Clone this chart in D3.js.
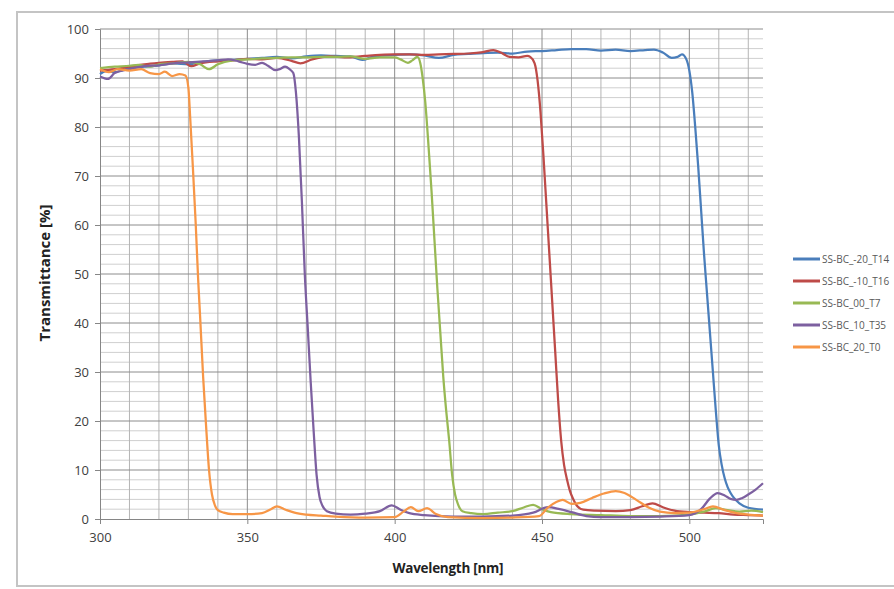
<!DOCTYPE html>
<html>
<head>
<meta charset="utf-8">
<script src="https://cdn.jsdelivr.net/npm/d3@7"></script>
<style>
  body { margin: 0; background: #fff; }
  svg { display: block; font-family: "Open Sans", "Noto Sans", sans-serif; }
</style>
</head>
<body>
<svg id="chart" width="894" height="589"></svg>
<script>
// series names (legend)
const seriesNames = ["SS-BC_-20_T14", "SS-BC_-10_T16", "SS-BC_00_T7", "SS-BC_10_T35", "SS-BC_20_T0"];
const seriesColors = ["#4a7ebb", "#be4b48", "#98b954", "#7d60a0", "#f79646"];

const xTicks = [300, 350, 400, 450, 500];
const yTicks = [0, 10, 20, 30, 40, 50, 60, 70, 80, 90, 100];

// [wavelength nm, transmittance %]
const bc_m20 = [[300,90.8],[302,91.4],[305,91.2],[310,92],[315,92.3],[320,92.6],[325,93],[330,92.8],[335,93.3],[340,93.6],[345,93.7],[350,93.9],[355,94.1],[360,94.3],[365,94.0],[370,94.4],[375,94.6],[380,94.5],[385,94.4],[389,93.7],[393,94.4],[400,94.7],[405,94.8],[410,94.6],[415,94.1],[420,94.7],[425,94.9],[430,95.1],[435,95.2],[440,95.0],[445,95.4],[450,95.5],[455,95.7],[460,95.9],[465,95.9],[470,95.6],[475,95.8],[480,95.5],[485,95.7],[488,95.8],[491,95.2],[494,94.1],[496,94.3],[497.5,94.8],[499,93.8],[500,91.5],[501,87],[502,80],[503,72],[504,63],[505,54],[506,46],[507,38],[508,30],[509,22],[510,15],[511,11],[512,8.3],[513,6.5],[514,5.3],[515,4.4],[517,3.2],[520,2.3],[525,1.9]];

const bc_m10 = [[300,91.5],[305,91.8],[310,92.3],[315,92.8],[320,93.1],[325,93.3],[328,93.4],[331,92.4],[334,93.0],[340,93.4],[345,93.6],[350,93.9],[355,93.8],[360,94.1],[365,93.5],[368,93.0],[372,93.8],[378,94.4],[383,94.2],[390,94.5],[395,94.7],[400,94.8],[405,94.8],[410,94.7],[415,94.8],[420,94.9],[425,95.0],[430,95.3],[433.5,95.7],[436,95.2],[439,94.3],[442,94.2],[445,94.5],[446,94.3],[447.5,93],[448.5,89.5],[449.5,83],[450.5,74],[451.5,64],[452.5,54],[453.5,44],[454.5,34],[455.5,24],[456.5,16],[457.5,11],[458.5,8],[459.5,5.7],[460.5,4.2],[462,2.6],[464,1.9],[468,1.7],[475,1.6],[480,1.8],[484,2.6],[487.5,3.2],[491,2.4],[495,1.7],[500,1.4],[505,1.3],[510,1.2],[515,0.9],[520,0.8],[525,0.7]];

const bc_00 = [[300,92],[305,92.3],[310,92.5],[313,92.7],[317,92.3],[320,92.8],[325,93],[330,93.3],[334,92.8],[337,91.8],[340,92.8],[345,93.6],[350,93.8],[355,94],[360,94.1],[365,94.2],[370,94.2],[375,94.3],[380,94.3],[385,94.4],[390,93.9],[395,94.2],[400,94.2],[402,93.8],[404.5,93.1],[406,93.6],[407.7,94.3],[408.7,93],[409.5,90],[410.4,85],[411.5,76],[412.5,67],[413.5,57],[414.5,47],[415.5,38],[416.5,29],[417.5,22],[418.5,16],[419.5,9],[420.5,5],[421.5,3],[423,1.6],[426,1.2],[430,1.0],[435,1.3],[440,1.6],[444,2.4],[447,2.9],[450,2.0],[453,1.4],[460,1.0],[470,0.8],[480,0.6],[490,0.6],[500,0.9],[505,1.5],[509,2.2],[513,1.8],[517,1.5],[521,1.7],[525,1.4]];

const bc_10 = [[300,90.3],[302.7,89.8],[305,91],[310,91.8],[315,92.4],[320,92.6],[325,93],[330,93.2],[335,93.4],[340,93.6],[343.5,93.8],[347,93.4],[350,92.9],[352.7,92.7],[355,93.1],[357,92.5],[359.5,91.6],[361,91.8],[362.8,92.3],[364.3,91.8],[365.6,91],[366.5,87],[367.5,78],[368.5,65],[369.5,50],[370.5,39],[371.5,28],[372.5,18],[373.5,9],[374.5,4.5],[375.5,2.7],[377,1.6],[380,1.1],[385,0.9],[390,1.1],[395,1.6],[399,2.8],[402,1.9],[405,1.2],[410,0.8],[420,0.5],[430,0.5],[440,0.7],[447,1.3],[452,2.4],[456,2.0],[460,1.4],[465,0.6],[470,0.4],[480,0.4],[490,0.5],[500,0.8],[504,2.0],[507,4.2],[509.6,5.3],[512,4.8],[514,4.1],[516,3.9],[518,4.3],[520,5.0],[522.5,6.0],[525,7.3]];

const bc_20 = [[300,91.8],[303,91.2],[306,91.8],[310,91.5],[314,91.8],[317,91],[320,90.8],[322,91.3],[324.5,90.4],[327,90.8],[329,90.5],[330,88],[330.6,82],[331.5,72],[332.5,60],[333.3,49],[334,41],[335,29],[336,19],[337,10],[338,5],[339,2.8],[340,1.8],[342,1.3],[345,1.0],[350,1.0],[355,1.2],[358,2.0],[360,2.6],[363,1.9],[366,1.3],[370,0.9],[375,0.7],[380,0.5],[390,0.3],[400,0.4],[403,1.5],[405.5,2.4],[408,1.6],[411,2.2],[414,1.0],[418,0.4],[430,0.2],[440,0.3],[449,0.6],[452,2.3],[455,3.5],[457,3.9],[460,3.1],[463,3.3],[467,4.3],[471,5.2],[475,5.7],[478,5.3],[482,3.9],[486,2.4],[490,1.5],[495,1.2],[500,1.3],[505,2.0],[508,2.6],[512,1.8],[516,1.2],[520,0.9],[525,0.7]];

const allSeries = [bc_m20, bc_m10, bc_00, bc_10, bc_20];

const svg = d3.select("#chart");
const plot = {left: 100, top: 29, right: 763, bottom: 519};

// outer chart border
svg.append("rect")
  .attr("x", 17).attr("y", 12)
  .attr("width", 900).attr("height", 574)
  .attr("fill", "none")
  .attr("stroke", "#c4c4c4")
  .attr("stroke-width", 2);

const x = d3.scaleLinear().domain([300, 525]).range([plot.left, plot.right]);
const y = d3.scaleLinear().domain([0, 100]).range([plot.bottom, plot.top]);

// gridlines
const grid = svg.append("g");
grid.selectAll(".hmin")
  .data(d3.range(0, 101, 2).filter(v => v % 10 !== 0))
  .enter().append("line")
  .attr("x1", plot.left).attr("x2", plot.right)
  .attr("y1", d => y(d)).attr("y2", d => y(d))
  .attr("stroke", "#cfcfcf").attr("stroke-width", 1);
grid.selectAll(".vmin")
  .data(d3.range(310, 526, 10).filter(v => v % 50 !== 0))
  .enter().append("line")
  .attr("x1", d => x(d)).attr("x2", d => x(d))
  .attr("y1", plot.top).attr("y2", plot.bottom)
  .attr("stroke", "#b4b4b4").attr("stroke-width", 1);
grid.selectAll(".hmaj")
  .data(yTicks.filter(v => v > 0))
  .enter().append("line")
  .attr("x1", plot.left).attr("x2", plot.right)
  .attr("y1", d => y(d)).attr("y2", d => y(d))
  .attr("stroke", "#8c8c8c").attr("stroke-width", 1);
grid.selectAll(".vmaj")
  .data(xTicks.filter(v => v > 300))
  .enter().append("line")
  .attr("x1", d => x(d)).attr("x2", d => x(d))
  .attr("y1", plot.top).attr("y2", plot.bottom)
  .attr("stroke", "#8c8c8c").attr("stroke-width", 1);

// axes
let yAxis = svg.append("g")
  .attr("transform", `translate(${plot.left},0)`)
  .call(d3.axisLeft(y).tickValues(yTicks).tickSize(5).tickPadding(6));
let xAxis = svg.append("g")
  .attr("transform", `translate(0,${plot.bottom})`)
  .call(d3.axisBottom(x).tickValues(xTicks).tickSize(5).tickPadding(9));
[yAxis, xAxis].forEach(a => {
  a.select(".domain").attr("stroke", "#868686");
  a.selectAll(".tick line").attr("stroke", "#868686");
  a.selectAll("text").attr("fill", "#404040").style("font-size", "13px")
    .style("font-family", "'Open Sans', sans-serif");
});

// series lines
const line = d3.line()
  .x(d => x(d[0]))
  .y(d => y(d[1]))
  .curve(d3.curveMonotoneX);

svg.append("g")
  .selectAll("path")
  .data(allSeries)
  .enter().append("path")
  .attr("d", line)
  .attr("fill", "none")
  .attr("stroke", (d, i) => seriesColors[i])
  .attr("stroke-width", 2.25)
  .attr("stroke-linejoin", "round");

// axis titles
svg.append("text")
  .attr("x", 448)
  .attr("y", 573)
  .attr("text-anchor", "middle")
  .attr("font-weight", "bold")
  .attr("font-size", "13.5px")
  .attr("fill", "#222")
  .attr("textLength", 111)
  .text("Wavelength [nm]");

svg.append("text")
  .attr("transform", "translate(50,273) rotate(-90)")
  .attr("text-anchor", "middle")
  .attr("font-weight", "bold")
  .attr("font-size", "15px")
  .attr("fill", "#222")
  .text("Transmittance [%]");

// legend
const legend = svg.append("g");
const leg = legend.selectAll("g")
  .data(seriesNames)
  .enter().append("g")
  .attr("transform", (d, i) => `translate(793,${259 + i * 22})`);
leg.append("line")
  .attr("x1", 0).attr("x2", 27)
  .attr("stroke", (d, i) => seriesColors[i])
  .attr("stroke-width", 3);
leg.append("text")
  .attr("x", 29).attr("dy", "0.35em")
  .attr("font-size", "10px")
  .attr("fill", "#595959")
  .text(d => d);
</script>
</body>
</html>
